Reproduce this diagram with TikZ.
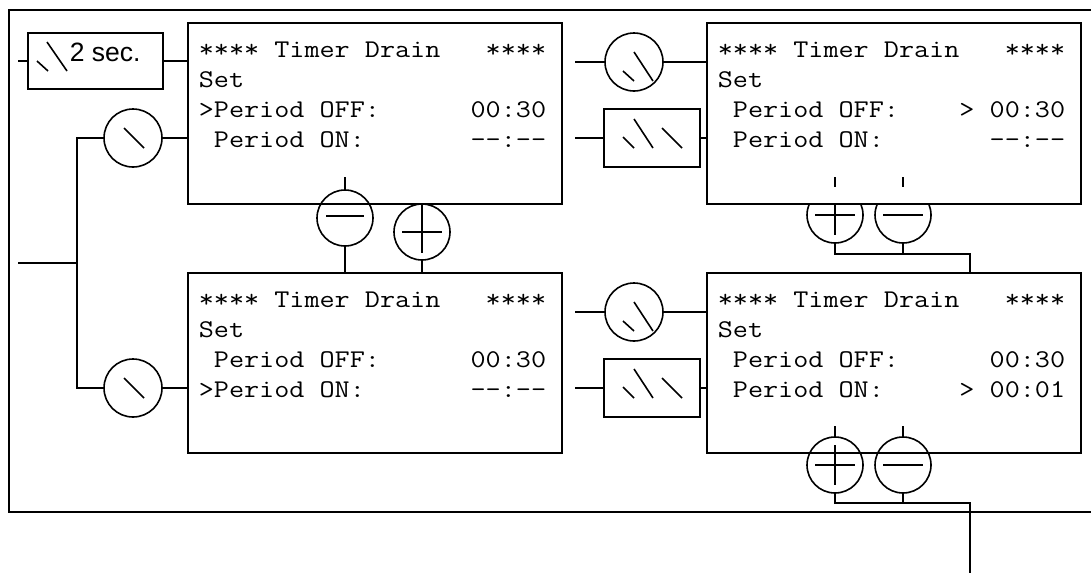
\documentclass[tikz,border=0pt]{standalone}
\usepackage{fontspec}
\setmonofont{Latin Modern Mono}[FakeStretch=1.15]
\newfontfamily\arialfont{Liberation Sans}
\usetikzlibrary{calc}
\begin{document}
\begin{tikzpicture}[x=1pt,y=-1pt,line width=1.6pt,
  keycirc/.style={circle,draw,minimum size=58pt,inner sep=0pt},
  pmcirc/.style={circle,draw,minimum size=56pt,inner sep=0pt},
  screen/.style={draw,fill=white,minimum width=374pt,minimum height=181pt,inner sep=0pt},
  keybox/.style={draw,minimum width=96pt,minimum height=58pt,inner sep=0pt},
  lcd/.style={anchor=base west,inner sep=0pt,font=\ttfamily\fontsize{25.5}{30}\selectfont}]
\useasboundingbox (0,0) rectangle (1091,573);

% outer frame (open to the right)
\draw (1091,10) -- (9,10) -- (9,512) -- (1091,512);

% ---- "2 sec." key
\node[draw,minimum width=135pt,minimum height=56pt,inner sep=0pt] (tsec) at (95.5,61) {};
\node[anchor=base west,inner sep=0pt,font=\arialfont\fontsize{26.5}{30}\selectfont] (tsectxt) at (69,61) {2 sec.};
\draw (37,61) -- (48,71);
\draw (47,42) -- (67,71);
\coordinate (tsecin) at (18,61);

% ---- top-right plus/minus (partly hidden by screen)
\node[pmcirc] (cP2) at (835,215) {};
\node[pmcirc] (cM2) at (903,215) {};
\draw ($(cP2.center)+(-20,0)$) -- ($(cP2.center)+(20,0)$);
\draw ($(cP2.center)+(0,-20)$) -- ($(cP2.center)+(0,20)$);
\draw ($(cM2.center)+(-20,0)$) -- ($(cM2.center)+(20,0)$);

% ---- screens
\node[screen] (box1) at (375,113.5) {};
\node[screen] (box2) at (894,113.5) {};
\node[screen,minimum height=180pt] (box3) at (375,363) {};
\node[screen,minimum height=180pt] (box4) at (894,363) {};

% ---- screen texts
\node[lcd] (t11) at (198,57)  {**** Timer Drain~~~****};
\node[lcd] (t12) at (198,87)  {Set};
\node[lcd] (t13) at (198,117) {>Period OFF:~~~~~~00:30};
\node[lcd] (t14) at (198,147) {~Period ON:~~~~~~~--:--};

\node[lcd] (t21) at (717,57)  {**** Timer Drain~~~****};
\node[lcd] (t22) at (717,87)  {Set};
\node[lcd] (t23) at (717,117) {~Period OFF:~~~~>~00:30};
\node[lcd] (t24) at (717,147) {~Period ON:~~~~~~~--:--};

\node[lcd] (t31) at (198,307) {**** Timer Drain~~~****};
\node[lcd] (t32) at (198,337) {Set};
\node[lcd] (t33) at (198,367) {~Period OFF:~~~~~~00:30};
\node[lcd] (t34) at (198,397) {>Period ON:~~~~~~~--:--};

\node[lcd] (t41) at (717,307) {**** Timer Drain~~~****};
\node[lcd] (t42) at (717,337) {Set};
\node[lcd] (t43) at (717,367) {~Period OFF:~~~~~~00:30};
\node[lcd] (t44) at (717,397) {~Period ON:~~~~~>~00:01};

% ---- connection 2 sec -> box1
\draw (tsecin) -- (tsec.west);
\draw (tsec.east) -- (tsec.east -| box1.west);

% ---- left keys
\node[keycirc] (cA) at (133,138) {};
\node[keycirc] (cB) at (133,388) {};
\draw ($(cA.center)+(-9,-10)$) -- ($(cA.center)+(11,10)$);
\draw ($(cB.center)+(-9,-10)$) -- ($(cB.center)+(11,10)$);
\coordinate (jA) at (77,138);
\coordinate (jB) at (77,388);
\coordinate (jM) at (77,263);
\coordinate (lin) at (18,263);
\draw (cA.east) -- (cA.east -| box1.west);
\draw (cB.east) -- (cB.east -| box3.west);
\draw (cA.west) -- (jA) -- (jB) -- (cB.west);
\draw (lin) -- (jM);

% ---- top-left minus / plus
\node[pmcirc] (cM1) at (345,218) {};
\node[pmcirc] (cP1) at (422,232) {};
\coordinate (tkM1) at (345,177);
\draw (tkM1) -- (cM1.north);
\draw ($(cM1.center)+(-19,-2)$) -- ($(cM1.center)+(19,-2)$);
\draw ($(cP1.center)+(-20,0)$) -- ($(cP1.center)+(20,0)$);
\draw (cP1.center |- box1.south) -- ($(cP1.center)+(0,21)$);
\draw (cM1.south) -- (cM1.south |- box3.north);
\draw (cP1.south) -- (cP1.south |- box3.north);

% ---- right keys, top
\node[keycirc] (cC1) at (634,62) {};
\node[keybox] (rR1) at (652,138) {};
\coordinate (inC1) at (575,62);
\coordinate (inR1) at (575,138);
\draw (inC1) -- (cC1.west);
\draw (cC1.east) -- (cC1.east -| box2.west);
\draw (inR1) -- (rR1.west);
\draw (rR1.east) -- (rR1.east -| box2.west);
\draw ($(cC1.center)+(-11,9)$) -- ($(cC1.center)+(0,19)$);
\draw ($(cC1.center)+(0,-10)$) -- ($(cC1.center)+(19,19)$);
\draw ($(rR1.center)+(-29,-1)$) -- ($(rR1.center)+(-18,10)$);
\draw ($(rR1.center)+(-18,-19)$) -- ($(rR1.center)+(1,10)$);
\draw ($(rR1.center)+(10,-10)$) -- ($(rR1.center)+(30,10)$);

% ---- right keys, bottom
\node[keycirc] (cC2) at (634,312) {};
\node[keybox] (rR2) at (652,388) {};
\coordinate (inC2) at (575,312);
\coordinate (inR2) at (575,388);
\draw (inC2) -- (cC2.west);
\draw (cC2.east) -- (cC2.east -| box4.west);
\draw (inR2) -- (rR2.west);
\draw (rR2.east) -- (rR2.east -| box4.west);
\draw ($(cC2.center)+(-11,9)$) -- ($(cC2.center)+(0,19)$);
\draw ($(cC2.center)+(0,-10)$) -- ($(cC2.center)+(19,19)$);
\draw ($(rR2.center)+(-29,-1)$) -- ($(rR2.center)+(-18,10)$);
\draw ($(rR2.center)+(-18,-19)$) -- ($(rR2.center)+(1,10)$);
\draw ($(rR2.center)+(10,-10)$) -- ($(rR2.center)+(30,10)$);

% ---- top-right plus/minus ticks and wiring
\draw (835,177) -- (835,187);
\draw (903,177) -- (903,187);
\coordinate (wP2) at (835,254);
\coordinate (wM2) at (903,254);
\coordinate (wR2) at (970,254);
\draw (cP2.south) -- (wP2) -- (wR2) -- (wR2 |- box4.north);
\draw (cM2.south) -- (wM2);

% ---- bottom-right plus/minus
\node[pmcirc] (cP3) at (835,465) {};
\node[pmcirc] (cM3) at (903,465) {};
\draw ($(cP3.center)+(-20,0)$) -- ($(cP3.center)+(20,0)$);
\draw ($(cP3.center)+(0,-20)$) -- ($(cP3.center)+(0,20)$);
\draw ($(cM3.center)+(-20,0)$) -- ($(cM3.center)+(20,0)$);
\draw (835,426) -- (cP3.north);
\draw (903,426) -- (cM3.north);
\coordinate (wP3) at (835,503);
\coordinate (wM3) at (903,503);
\coordinate (wR3) at (970,503);
\coordinate (outR3) at (970,573);
\draw (cP3.south) -- (wP3) -- (wR3) -- (outR3);
\draw (cM3.south) -- (wM3);
\end{tikzpicture}
\end{document}
